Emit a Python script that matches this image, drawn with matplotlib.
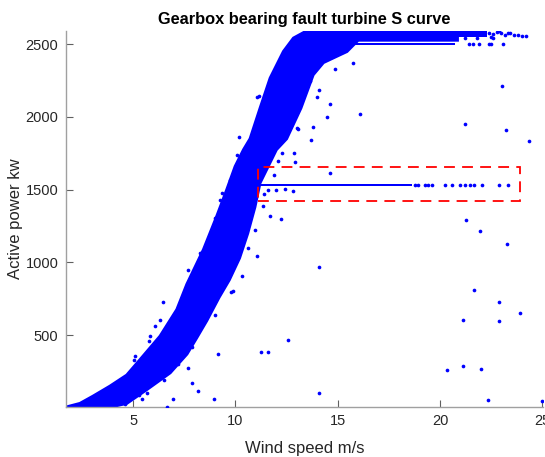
"""
Gearbox bearing fault turbine - power curve scatter.
"""

import numpy as np
import matplotlib
matplotlib.use('Agg')
import matplotlib.pyplot as plt
from matplotlib.patches import Rectangle

plt.rcParams['font.family'] = ['Liberation Sans', 'DejaVu Sans']

# dense cloud outline: upper/left edge, then lower/right edge
band_upper_x = [1.72, 2.4, 3.04, 3.87, 4.69, 5.43, 6.32, 7.14, 7.63, 8.44, 9.09, 9.58,
                9.99, 10.4, 10.72, 11.21, 11.7, 12.35, 12.84, 13.4, 14.0, 20.85]
band_upper_y = [5, 30, 80, 149, 225, 346, 493, 676, 850, 1088, 1317, 1500,
                1660, 1775, 1850, 2061, 2267, 2450, 2542, 2585, 2600, 2600]
band_lower_x = [20.85, 16.0, 15.45, 15.1, 14.3, 13.8, 13.2, 12.5, 12.0, 11.2, 10.95,
                10.6, 10.2, 9.7, 9.2, 8.6, 8.1, 7.63, 6.81, 5.67, 4.69, 3.87]
band_lower_y = [2528, 2528, 2450, 2427, 2374, 2290, 2061, 1850, 1775, 1546, 1380,
                1200, 1030, 880, 760, 600, 480, 370, 241, 126, 31, 5]

# rated power stripes and stuck-power line (x from, x to, y low, y high)
stripe_x0 = [14.6, 10.5, 20.8]
stripe_x1 = [20.75, 18.65, 22.3]
stripe_y0 = [2494, 1522, 2552]
stripe_y1 = [2508, 1540, 2595]

# points along the edges of the dense cloud
fringe_x = [6.32, 5.83, 4.04, 3.5, 7.7, 8.28, 9.01, 9.26, 9.34, 9.75, 10.1, 11.13,
            10.95, 11.05, 10.3, 9.9, 11.37, 11.7, 13.0, 13.4, 13.66, 12.1, 12.7,
            7.2, 7.9, 6.5, 5.3, 9.0, 10.6, 11.9, 14.8, 15.3]
fringe_y = [607, 492, 149, 105, 951, 1065, 1306, 1431, 1477, 1569, 1740, 2144,
            1225, 1042, 905, 800, 1385, 1317, 1924, 2210, 2244, 1700, 2050,
            300, 420, 190, 90, 640, 1100, 1600, 2440, 2470]

# sparse points
sparse_x = [18.8, 18.94, 19.29, 19.43, 19.63, 20.26, 20.6, 21.0, 21.24, 21.49, 21.68,
            22.07, 22.86, 23.3,
            21.4, 21.6, 21.9, 22.4, 22.5, 23.1,
            22.4, 22.6, 22.8, 23.0, 23.2, 23.4, 23.6, 23.8, 24.0, 24.2,
            22.5, 22.9, 23.3, 21.2, 21.8, 22.6]
sparse_y = [1530, 1530, 1530, 1530, 1530, 1530, 1530, 1530, 1530, 1530, 1530,
            1530, 1530, 1530,
            2500, 2500, 2500, 2500, 2500, 2500,
            2580, 2570, 2585, 2575, 2560, 2575, 2562, 2560, 2558, 2558,
            2550, 2588, 2580, 2545, 2542, 2546]

outlier_x = [12.22, 21.29, 21.94, 23.28, 14.08, 21.68, 22.89, 23.9, 21.11, 22.9,
             12.57, 11.25, 11.6, 20.35, 21.11, 22.02, 14.11, 22.33, 25.0,
             9.16, 7.67, 7.9, 8.19, 8.96, 6.97, 6.68, 5.67, 5.43, 4.61, 9.78,
             6.45, 6.08, 5.1, 5.02, 5.78,
             23.04, 21.21, 23.21, 24.34, 16.1, 14.6, 15.74, 14.5, 13.7, 13.77,
             13.98, 14.07, 14.6, 13.04, 12.84, 12.9, 12.27, 14.85,
             10.17, 11.05, 11.6, 12.0, 12.4, 12.8, 11.4]
outlier_y = [1299, 1289, 1214, 1129, 971, 811, 726, 653, 607, 600,
             465, 387, 383, 259, 291, 264, 104, 53, 44,
             372, 271, 172, 119, 62, 58, 8, 104, 58, 28, 795,
             726, 561, 355, 332, 458,
             2210, 1953, 1912, 1832, 2022, 1615, 2370, 1999, 1839, 1930,
             2137, 2187, 2091, 1919, 1752, 1688, 1752, 2331,
             1862, 2137, 1500, 1495, 1505, 1490, 1470]

x_ticks = [5, 10, 15, 20, 25]
y_ticks = [500, 1000, 1500, 2000, 2500]

# fault window marked on the chart
box_x = [11.1, 23.9]
box_y = [1425, 1658]

blue = '#0000ff'

fig = plt.figure(figsize=(5.45, 4.57), dpi=100)
ax = fig.add_axes([0.1211, 0.1101, 0.8747, 0.8221])

poly_x = band_upper_x + band_lower_x
poly_y = band_upper_y + band_lower_y
ax.fill(poly_x, poly_y, color=blue, linewidth=2.2, edgecolor=blue, zorder=2)

for x0, x1, y0, y1 in zip(stripe_x0, stripe_x1, stripe_y0, stripe_y1):
    ax.fill_between([x0, x1], [y0, y0], [y1, y1], color=blue, linewidth=0, zorder=2)

ax.scatter(fringe_x, fringe_y, s=7, color=blue, linewidths=0, zorder=3)
ax.scatter(sparse_x, sparse_y, s=7, color=blue, linewidths=0, zorder=3)
ax.scatter(outlier_x, outlier_y, s=7, color=blue, linewidths=0, zorder=3)

ax.add_patch(Rectangle((box_x[0], box_y[0]), box_x[1] - box_x[0], box_y[1] - box_y[0],
                       fill=False, edgecolor='#ff0000', linestyle=(0, (6, 4)),
                       linewidth=1.3, zorder=4))

ax.set_xlim(1.72, 25.02)
ax.set_ylim(8, 2591)
ax.set_xticks(x_ticks)
ax.set_yticks(y_ticks)

for side in ['top', 'right']:
    ax.spines[side].set_visible(False)
for side in ['left', 'bottom']:
    ax.spines[side].set_color('#a0a0a0')
    ax.spines[side].set_linewidth(1.0)
ax.tick_params(direction='in', length=5, width=0.8, color='#606060',
               labelcolor='#262626', labelsize=10.5, pad=5.5)

ax.set_xlabel('Wind speed m/s', fontsize=12, color='#262626', labelpad=9)
ax.set_ylabel('Active power kw', fontsize=12, color='#262626', labelpad=2)
ax.set_title('Gearbox bearing fault turbine S curve', fontsize=11.8,
             fontweight='bold', pad=5)

fig.savefig('out.png', dpi=100)
